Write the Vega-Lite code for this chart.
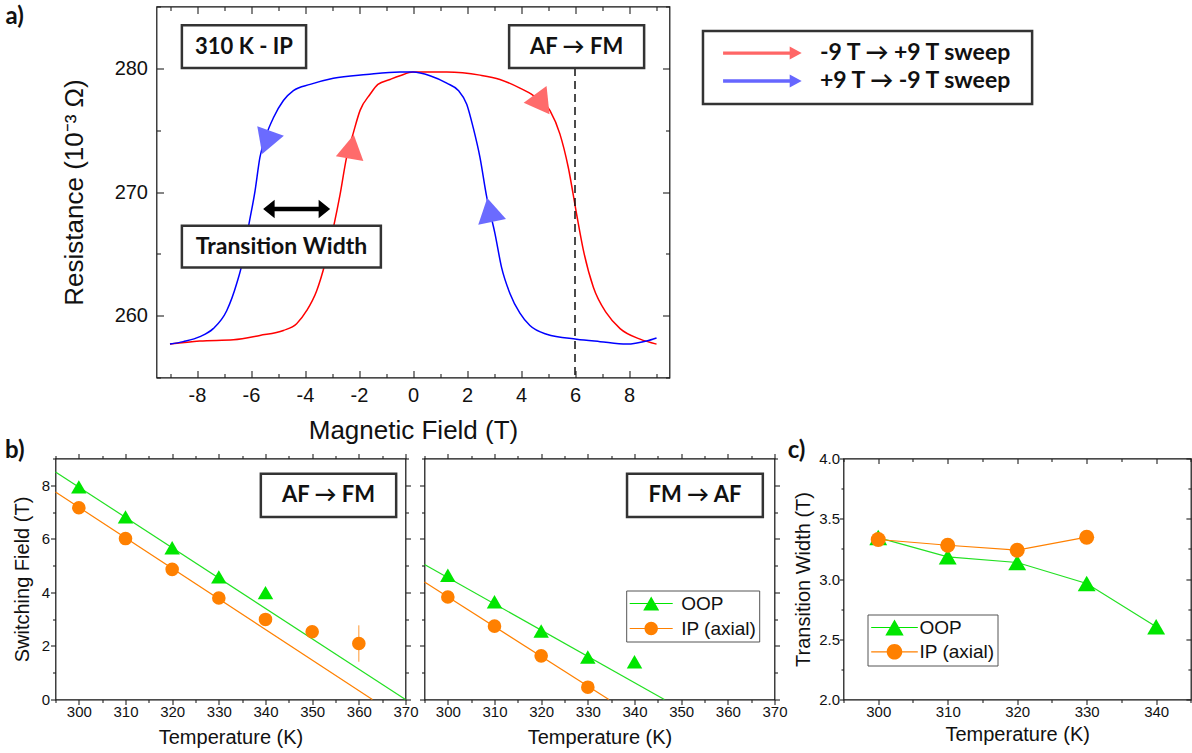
{
"$schema": "https://vega.github.io/schema/vega-lite/v6.json",
"background": "white",
"padding": {"left": 3.5, "top": 4.5, "right": 0, "bottom": 0},
"config": {
 "view": {"stroke": "#111", "strokeWidth": 1.2},
 "font": "Liberation Sans",
 "axis": {"domain": false, "grid": false, "labelFont": "Liberation Sans", "labelColor": "#111", "labelFlush": false, "labelOverlap": false, "labelBound": false, "titleFont": "Liberation Sans", "titleFontWeight": "normal", "titleColor": "#111", "tickColor": "#222", "tickWidth": 1.1}
},
"datasets": {
"sweep": [
{"s":"up","B":-9.0,"R":257.7},{"s":"up","B":-7.9,"R":257.95},{"s":"up","B":-6.65,"R":258.05},{"s":"up","B":-5.67,"R":258.4},{"s":"up","B":-4.8,"R":258.8},{"s":"up","B":-4.31,"R":259.35},{"s":"up","B":-3.94,"R":260.4},{"s":"up","B":-3.57,"R":262.0},{"s":"up","B":-3.26,"R":264.2},{"s":"up","B":-2.95,"R":267.1},{"s":"up","B":-2.7,"R":269.8},{"s":"up","B":-2.46,"R":272.8},{"s":"up","B":-2.22,"R":274.7},{"s":"up","B":-1.96,"R":276.6},{"s":"up","B":-1.59,"R":277.9},{"s":"up","B":-1.3,"R":278.7},{"s":"up","B":-0.85,"R":279.1},{"s":"up","B":-0.48,"R":279.4},{"s":"up","B":0,"R":279.7},{"s":"up","B":1.25,"R":279.7},{"s":"up","B":2.48,"R":279.45},{"s":"up","B":3.22,"R":279.1},{"s":"up","B":3.96,"R":278.4},{"s":"up","B":4.46,"R":277.8},{"s":"up","B":5.07,"R":276.6},{"s":"up","B":5.44,"R":274.7},{"s":"up","B":5.75,"R":272.0},{"s":"up","B":6.06,"R":268.2},{"s":"up","B":6.31,"R":265.3},{"s":"up","B":6.68,"R":262.3},{"s":"up","B":7.17,"R":260.2},{"s":"up","B":7.67,"R":258.95},{"s":"up","B":8.41,"R":258.1},{"s":"up","B":9.02,"R":257.7},
{"s":"down","B":9.02,"R":258.2},{"s":"down","B":8.65,"R":257.95},{"s":"down","B":7.91,"R":257.7},{"s":"down","B":6.93,"R":257.9},{"s":"down","B":6.06,"R":258.1},{"s":"down","B":4.95,"R":258.5},{"s":"down","B":4.33,"R":259.2},{"s":"down","B":3.96,"R":260.2},{"s":"down","B":3.59,"R":261.8},{"s":"down","B":3.28,"R":263.9},{"s":"down","B":3.04,"R":266.6},{"s":"down","B":2.73,"R":269.6},{"s":"down","B":2.48,"R":272.8},{"s":"down","B":2.23,"R":275.2},{"s":"down","B":1.99,"R":277.1},{"s":"down","B":1.68,"R":278.2},{"s":"down","B":1.25,"R":278.8},{"s":"down","B":0.63,"R":279.4},{"s":"down","B":0,"R":279.7},{"s":"down","B":-0.48,"R":279.7},{"s":"down","B":-1.72,"R":279.5},{"s":"down","B":-2.95,"R":279.2},{"s":"down","B":-3.81,"R":278.7},{"s":"down","B":-4.43,"R":278.2},{"s":"down","B":-4.8,"R":277.4},{"s":"down","B":-5.17,"R":276.0},{"s":"down","B":-5.42,"R":274.7},{"s":"down","B":-5.67,"R":272.8},{"s":"down","B":-5.85,"R":270.1},{"s":"down","B":-6.1,"R":267.1},{"s":"down","B":-6.28,"R":264.7},{"s":"down","B":-6.53,"R":262.6},{"s":"down","B":-6.9,"R":260.4},{"s":"down","B":-7.4,"R":258.95},{"s":"down","B":-7.89,"R":258.3},{"s":"down","B":-8.51,"R":257.9},{"s":"down","B":-9.0,"R":257.7}
],
"sw": [
{"dir":"AF → FM","sample":"OOP","T":300,"H":7.94},{"dir":"AF → FM","sample":"OOP","T":310,"H":6.82},{"dir":"AF → FM","sample":"OOP","T":320,"H":5.67},{"dir":"AF → FM","sample":"OOP","T":330,"H":4.58},{"dir":"AF → FM","sample":"OOP","T":340,"H":3.99},
{"dir":"AF → FM","sample":"IP (axial)","T":300,"H":7.16},{"dir":"AF → FM","sample":"IP (axial)","T":310,"H":6.01},{"dir":"AF → FM","sample":"IP (axial)","T":320,"H":4.86},{"dir":"AF → FM","sample":"IP (axial)","T":330,"H":3.79},{"dir":"AF → FM","sample":"IP (axial)","T":340,"H":2.99},{"dir":"AF → FM","sample":"IP (axial)","T":350,"H":2.53},{"dir":"AF → FM","sample":"IP (axial)","T":360,"H":2.09,"lo":1.41,"hi":2.77},
{"dir":"FM → AF","sample":"OOP","T":300,"H":4.64},{"dir":"FM → AF","sample":"OOP","T":310,"H":3.65},{"dir":"FM → AF","sample":"OOP","T":320,"H":2.56},{"dir":"FM → AF","sample":"OOP","T":330,"H":1.59},{"dir":"FM → AF","sample":"OOP","T":340,"H":1.41},
{"dir":"FM → AF","sample":"IP (axial)","T":300,"H":3.83},{"dir":"FM → AF","sample":"IP (axial)","T":310,"H":2.74},{"dir":"FM → AF","sample":"IP (axial)","T":320,"H":1.63},{"dir":"FM → AF","sample":"IP (axial)","T":330,"H":0.46}
],
"fit": [
{"dir":"AF → FM","sample":"OOP","T":295,"H":8.5},{"dir":"AF → FM","sample":"OOP","T":370,"H":0},
{"dir":"AF → FM","sample":"IP (axial)","T":295,"H":7.75},{"dir":"AF → FM","sample":"IP (axial)","T":362.9,"H":0},
{"dir":"FM → AF","sample":"OOP","T":295,"H":5.04},{"dir":"FM → AF","sample":"OOP","T":346.4,"H":0},
{"dir":"FM → AF","sample":"IP (axial)","T":295,"H":4.39},{"dir":"FM → AF","sample":"IP (axial)","T":334.5,"H":0}
],
"tw": [
{"sample":"OOP","T":300,"W":3.344},{"sample":"OOP","T":310,"W":3.184},{"sample":"OOP","T":320,"W":3.137},{"sample":"OOP","T":330,"W":2.963},{"sample":"OOP","T":340,"W":2.603},
{"sample":"IP (axial)","T":300,"W":3.328},{"sample":"IP (axial)","T":310,"W":3.28},{"sample":"IP (axial)","T":320,"W":3.239},{"sample":"IP (axial)","T":330,"W":3.347}
]
},
"columns": 1,
"align": "none",
"spacing": {"row": -7, "column": 0},
"resolve": {"scale": {"color": "independent", "shape": "independent"}, "legend": {"color": "independent", "shape": "independent"}},
"concat": [
{
"spacing": 0,
"hconcat": [
{
"width": 5, "height": 371,
"view": {"stroke": null},
"data": {"values": [{}]},
"mark": {"type": "text", "font": "Lato", "fontWeight": "bold", "fontSize": 24, "color": "#111", "align": "left", "baseline": "alphabetic", "text": "a)"},
"encoding": {
 "x": {"datum": -10, "type": "quantitative", "scale": {"domain": [0, 1], "nice": false, "zero": false}, "axis": null},
 "y": {"datum": 283.57, "type": "quantitative", "scale": {"domain": [255, 285], "nice": false, "zero": false}, "axis": null}
}
},
{
"width": 513, "height": 371,
"layer": [
{"layer": [
{"data": {"name": "sweep"}, "transform": [{"filter": "datum.s === 'up'"}],
 "mark": {"type": "line", "color": "#ff0000", "strokeWidth": 1.5, "interpolate": "monotone"},
 "encoding": {
  "x": {"field": "B", "type": "quantitative", "scale": {"domain": [-9.5, 9.5], "nice": false, "zero": false},
   "axis": {"orient": "bottom", "values": [-8,-6,-4,-2,0,2,4,6,8], "labelExpr": "replace(datum.label, '\u2212', '-')",
    "tickSize": -7, "labelPadding": 15, "labelFontSize": 20,
    "title": "Magnetic Field (T)", "titleFontSize": 26, "titlePadding": 12}},
  "y": {"field": "R", "type": "quantitative", "scale": {"domain": [255, 285], "nice": false, "zero": false},
   "axis": {"orient": "left", "values": [260,270,280], "tickSize": -7, "labelPadding": 16, "labelFontSize": 20,
    "title": "Resistance (10\u207b\u00b3 \u03a9)", "titleFontSize": 26, "titlePadding": 27}}
 }},
{"data": {"name": "sweep"}, "transform": [{"filter": "datum.s === 'down'"}],
 "mark": {"type": "line", "color": "#0000ff", "strokeWidth": 1.5, "interpolate": "monotone"},
 "encoding": {"x": {"field": "B", "type": "quantitative"}, "y": {"field": "R", "type": "quantitative"}}},
{"data": {"values": [{}]}, "mark": {"type": "rule", "strokeDash": [8, 5], "strokeWidth": 1.5, "color": "#111"},
 "encoding": {"x": {"datum": 6}, "y": {"datum": 280.02}, "y2": {"datum": 255}}},
{"data": {"values": [{}]}, "mark": {"type": "rect", "fill": "white", "stroke": "#333", "strokeWidth": 2.5},
 "encoding": {"x": {"datum": -8.56}, "x2": {"datum": -3.96}, "y": {"datum": 283.49}, "y2": {"datum": 280.02}}},
{"data": {"values": [{}]}, "mark": {"type": "rect", "fill": "white", "stroke": "#333", "strokeWidth": 2.5},
 "encoding": {"x": {"datum": 3.56}, "x2": {"datum": 8.56}, "y": {"datum": 283.49}, "y2": {"datum": 280.02}}},
{"data": {"values": [{}]}, "mark": {"type": "rect", "fill": "white", "stroke": "#333", "strokeWidth": 2.5},
 "encoding": {"x": {"datum": -8.56}, "x2": {"datum": -1.19}, "y": {"datum": 267.28}, "y2": {"datum": 263.9}}},
{"data": {"values": [{}]}, "mark": {"type": "rect", "fill": "white", "stroke": "#333", "strokeWidth": 2.5},
 "encoding": {"x": {"datum": 10.74}, "x2": {"datum": 22.93}, "y": {"datum": 283.01}, "y2": {"datum": 277.12}}},
{"data": {"values": [{}]}, "mark": {"type": "text", "font": "Lato", "fontWeight": "bold", "fontSize": 22, "color": "#111", "align": "center", "baseline": "middle", "text": "310 K - IP"},
 "encoding": {"x": {"datum": -6.26}, "y": {"datum": 281.76}}},
{"data": {"values": [{}]}, "mark": {"type": "text", "font": "Lato", "fontWeight": "bold", "fontSize": 22, "color": "#111", "align": "center", "baseline": "middle", "text": "AF → FM"},
 "encoding": {"x": {"datum": 6.06}, "y": {"datum": 281.76}}},
{"data": {"values": [{}]}, "mark": {"type": "text", "font": "Lato", "fontWeight": "bold", "fontSize": 23, "color": "#111", "align": "center", "baseline": "middle", "text": "Transition Width"},
 "encoding": {"x": {"datum": -4.87}, "y": {"datum": 265.59}}},
{"data": {"values": [{}]}, "mark": {"type": "text", "font": "Lato", "fontWeight": "bold", "fontSize": 23, "color": "#111", "align": "left", "baseline": "middle", "text": "-9 T → +9 T sweep"},
 "encoding": {"x": {"datum": 15.07}, "y": {"datum": 281.23}}},
{"data": {"values": [{}]}, "mark": {"type": "text", "font": "Lato", "fontWeight": "bold", "fontSize": 23, "color": "#111", "align": "left", "baseline": "middle", "text": "+9 T → -9 T sweep"},
 "encoding": {"x": {"datum": 15.07}, "y": {"datum": 278.98}}},
{"data": {"values": [{}]}, "mark": {"type": "point", "filled": true, "opacity": 1, "shape": "triangle-up", "size": 780, "angle": 10, "color": "#ff6b6b"},
 "encoding": {"x": {"datum": -2.27}, "y": {"datum": 273.66}}},
{"data": {"values": [{}]}, "mark": {"type": "point", "filled": true, "opacity": 1, "shape": "triangle-up", "size": 800, "angle": 264, "color": "#ff6b6b"},
 "encoding": {"x": {"datum": 4.55}, "y": {"datum": 277.33}}},
{"data": {"values": [{}]}, "mark": {"type": "point", "filled": true, "opacity": 1, "shape": "triangle-up", "size": 800, "angle": 80, "color": "#6b6bff"},
 "encoding": {"x": {"datum": -5.23}, "y": {"datum": 274.37}}},
{"data": {"values": [{}]}, "mark": {"type": "point", "filled": true, "opacity": 1, "shape": "triangle-up", "size": 800, "angle": 348.5, "color": "#6b6bff"},
 "encoding": {"x": {"datum": 2.84}, "y": {"datum": 268.55}}},
{"data": {"values": [{}]}, "mark": {"type": "point", "filled": true, "opacity": 1, "size": 4, "color": "#000", "shape": "M-33.5,0L-22,-9.2L-22,-2.3L22,-2.3L22,-9.2L33.5,0L22,9.2L22,2.3L-22,2.3L-22,9.2Z"},
 "encoding": {"x": {"datum": -4.31}, "y": {"datum": 268.63}}},
{"data": {"values": [{}]}, "mark": {"type": "point", "filled": true, "opacity": 1, "size": 4, "color": "#ff6666", "shape": "M-39.3,-1.7L27.3,-1.7L27.3,-6.5L39.3,0L27.3,6.5L27.3,1.7L-39.3,1.7Z"},
 "encoding": {"x": {"datum": 12.94}, "y": {"datum": 281.23}}},
{"data": {"values": [{}]}, "mark": {"type": "point", "filled": true, "opacity": 1, "size": 4, "color": "#6666ff", "shape": "M-39.3,-1.7L27.3,-1.7L27.3,-6.5L39.3,0L27.3,6.5L27.3,1.7L-39.3,1.7Z"},
 "encoding": {"x": {"datum": 12.94}, "y": {"datum": 278.98}}}
]},
{"data": {"name": "sweep"}, "mark": {"type": "point", "opacity": 0},
 "encoding": {
  "x": {"field": "B", "type": "quantitative", "axis": {"orient": "top", "values": [-8,-6,-4,-2,0,2,4,6,8], "labels": false, "title": null, "tickSize": -7}},
  "y": {"field": "R", "type": "quantitative", "axis": {"orient": "right", "values": [260,270,280], "labels": false, "title": null, "tickSize": -7}}}},
{"data": {"name": "sweep"}, "mark": {"type": "point", "opacity": 0},
 "encoding": {
  "x": {"field": "B", "type": "quantitative", "axis": {"orient": "bottom", "values": [-9,-7,-5,-3,-1,1,3,5,7,9], "labels": false, "title": null, "tickSize": -4}},
  "y": {"field": "R", "type": "quantitative", "axis": {"orient": "left", "values": [255,265,275,285], "labels": false, "title": null, "tickSize": -4}}}},
{"data": {"name": "sweep"}, "mark": {"type": "point", "opacity": 0},
 "encoding": {
  "x": {"field": "B", "type": "quantitative", "axis": {"orient": "top", "values": [-9,-7,-5,-3,-1,1,3,5,7,9], "labels": false, "title": null, "tickSize": -4}},
  "y": {"field": "R", "type": "quantitative", "axis": {"orient": "right", "values": [255,265,275,285], "labels": false, "title": null, "tickSize": -4}}}}
],
"resolve": {"axis": {"x": "independent", "y": "independent"}}
}
]
},
{
"spacing": -2,
"resolve": {"scale": {"color": "independent", "shape": "independent"}, "legend": {"color": "independent", "shape": "independent"}},
"hconcat": [
{
"width": 350, "height": 241,
"layer": [
{"layer": [
{"data": {"name": "fit"}, "transform": [{"filter": "datum.dir === 'AF → FM' && datum.sample === 'OOP'"}],
 "mark": {"type": "line", "strokeWidth": 1.2, "color": "#22e022"},
 "encoding": {
  "x": {"field": "T", "type": "quantitative", "scale": {"domain": [295, 370], "nice": false, "zero": false},
   "axis": {"orient": "bottom", "values": [300,310,320,330,340,350,360,370], "tickSize": 5, "labelPadding": 0, "labelFontSize": 15,
    "title": "Temperature (K)", "titleFontSize": 20, "titlePadding": 8}},
  "y": {"field": "H", "type": "quantitative", "scale": {"domain": [0, 9], "nice": false, "zero": false},
   "axis": {"orient": "left", "values": [0,2,4,6,8], "tickSize": 5, "labelPadding": 1, "labelFontSize": 15,
    "title": "Switching Field (T)", "titleFontSize": 20, "titlePadding": 9}}
 }},
{"data": {"name": "fit"}, "transform": [{"filter": "datum.dir === 'AF → FM' && datum.sample === 'IP (axial)'"}],
 "mark": {"type": "line", "strokeWidth": 1.2, "color": "#ff8000"},
 "encoding": {"x": {"field": "T", "type": "quantitative"}, "y": {"field": "H", "type": "quantitative"}}},
{"data": {"name": "sw"}, "transform": [{"filter": "datum.dir === 'AF → FM' && isValid(datum.lo)"}],
 "mark": {"type": "rule", "color": "#ff9933", "strokeWidth": 1},
 "encoding": {"x": {"field": "T", "type": "quantitative"}, "y": {"field": "lo", "type": "quantitative"}, "y2": {"field": "hi"}}},
{"data": {"name": "sw"}, "transform": [{"filter": "datum.dir === 'AF → FM' && datum.sample === 'OOP'"}],
 "mark": {"type": "point", "filled": true, "opacity": 1, "shape": "triangle-up", "size": 240, "color": "#00e600"},
 "encoding": {"x": {"field": "T", "type": "quantitative"}, "y": {"field": "H", "type": "quantitative"}}},
{"data": {"name": "sw"}, "transform": [{"filter": "datum.dir === 'AF → FM' && datum.sample === 'IP (axial)'"}],
 "mark": {"type": "point", "filled": true, "opacity": 1, "shape": "circle", "size": 185, "color": "#ff8000"},
 "encoding": {"x": {"field": "T", "type": "quantitative"}, "y": {"field": "H", "type": "quantitative"}}},
{"data": {"values": [{}]}, "mark": {"type": "rect", "fill": "white", "stroke": "#333", "strokeWidth": 2.5},
 "encoding": {"x": {"datum": 339.0}, "x2": {"datum": 368.0}, "y": {"datum": 8.43}, "y2": {"datum": 6.82}}},
{"data": {"values": [{}]}, "mark": {"type": "text", "font": "Lato", "fontWeight": "bold", "fontSize": 22, "color": "#111", "align": "center", "baseline": "middle", "text": "AF → FM"},
 "encoding": {"x": {"datum": 353.5}, "y": {"datum": 7.62}}},
{"data": {"values": [{}]}, "mark": {"type": "text", "font": "Lato", "fontWeight": "bold", "fontSize": 24, "color": "#111", "align": "left", "baseline": "alphabetic", "text": "b)"},
 "encoding": {"x": {"datum": 284.17}, "y": {"datum": 9.03}}}
]},
{"data": {"name": "sw"}, "mark": {"type": "point", "opacity": 0},
 "encoding": {
  "x": {"field": "T", "type": "quantitative", "axis": {"orient": "top", "values": [300,310,320,330,340,350,360,370], "labels": false, "title": null, "tickSize": 5}},
  "y": {"field": "H", "type": "quantitative", "axis": {"orient": "right", "values": [0,2,4,6,8], "labels": false, "title": null, "tickSize": 5}}}},
{"data": {"name": "sw"}, "mark": {"type": "point", "opacity": 0},
 "encoding": {
  "x": {"field": "T", "type": "quantitative", "axis": {"orient": "bottom", "values": [295,305,315,325,335,345,355,365], "labels": false, "title": null, "tickSize": 3}},
  "y": {"field": "H", "type": "quantitative", "axis": {"orient": "left", "values": [1,3,5,7,9], "labels": false, "title": null, "tickSize": 3}}}},
{"data": {"name": "sw"}, "mark": {"type": "point", "opacity": 0},
 "encoding": {
  "x": {"field": "T", "type": "quantitative", "axis": {"orient": "top", "values": [295,305,315,325,335,345,355,365], "labels": false, "title": null, "tickSize": 3}},
  "y": {"field": "H", "type": "quantitative", "axis": {"orient": "right", "values": [1,3,5,7,9], "labels": false, "title": null, "tickSize": 3}}}}
],
"resolve": {"axis": {"x": "independent", "y": "independent"}}
},
{
"width": 350, "height": 241,
"layer": [
{"layer": [
{"data": {"name": "fit"}, "transform": [{"filter": "datum.dir === 'FM → AF' && datum.sample === 'OOP'"}],
 "mark": {"type": "line", "strokeWidth": 1.2, "color": "#22e022"},
 "encoding": {
  "x": {"field": "T", "type": "quantitative", "scale": {"domain": [295, 370], "nice": false, "zero": false},
   "axis": {"orient": "bottom", "values": [300,310,320,330,340,350,360,370], "tickSize": 5, "labelPadding": 0, "labelFontSize": 15,
    "title": "Temperature (K)", "titleFontSize": 20, "titlePadding": 8}},
  "y": {"field": "H", "type": "quantitative", "scale": {"domain": [0, 9], "nice": false, "zero": false},
   "axis": {"orient": "left", "values": [0,2,4,6,8], "labels": false, "title": null, "tickSize": 5}}
 }},
{"data": {"name": "fit"}, "transform": [{"filter": "datum.dir === 'FM → AF' && datum.sample === 'IP (axial)'"}],
 "mark": {"type": "line", "strokeWidth": 1.2, "color": "#ff8000"},
 "encoding": {"x": {"field": "T", "type": "quantitative"}, "y": {"field": "H", "type": "quantitative"}}},
{"data": {"name": "sw"}, "transform": [{"filter": "datum.dir === 'FM → AF' && datum.sample === 'OOP'"}],
 "mark": {"type": "point", "filled": true, "opacity": 1, "shape": "triangle-up", "size": 240, "color": "#00e600"},
 "encoding": {"x": {"field": "T", "type": "quantitative"}, "y": {"field": "H", "type": "quantitative"}}},
{"data": {"name": "sw"}, "transform": [{"filter": "datum.dir === 'FM → AF' && datum.sample === 'IP (axial)'"}],
 "mark": {"type": "point", "filled": true, "opacity": 1, "shape": "circle", "size": 185, "color": "#ff8000"},
 "encoding": {"x": {"field": "T", "type": "quantitative"}, "y": {"field": "H", "type": "quantitative"}}},
{"data": {"name": "sw"}, "transform": [{"filter": "false"}],
 "mark": {"type": "point", "filled": true, "opacity": 1, "strokeWidth": 0},
 "encoding": {"x": {"field": "T", "type": "quantitative"}, "y": {"field": "H", "type": "quantitative"},
  "color": {"field": "sample", "type": "nominal", "scale": {"domain": ["OOP", "IP (axial)"], "range": ["#00e600", "#ff8000"]},
   "legend": {"orient": "none", "legendX": 201.7, "legendY": 132, "title": null, "padding": 3, "strokeColor": "#555", "fillColor": "white", "symbolSize": 400, "symbolStrokeWidth": 0, "symbolOffset": 12, "labelOffset": 20, "labelFontSize": 19, "labelFont": "Liberation Sans", "labelColor": "#111", "rowPadding": 5, "labelLimit": 300, "symbolOpacity": 1}},
  "shape": {"field": "sample", "type": "nominal", "scale": {"domain": ["OOP", "IP (axial)"], "range": ["M-2.15,-0.06L2.15,-0.06L2.15,0.06L-2.15,0.06Z M0,-0.69L0.8,0.69L-0.8,0.69Z", "M-2.15,-0.06L2.15,-0.06L2.15,0.06L-2.15,0.06Z M-0.67,0A0.67,0.67,0,1,1,0.67,0A0.67,0.67,0,1,1,-0.67,0Z"]},
   "legend": {"orient": "none", "legendX": 201.7, "legendY": 132, "title": null, "padding": 3, "strokeColor": "#555", "fillColor": "white", "symbolSize": 400, "symbolStrokeWidth": 0, "symbolOffset": 12, "labelOffset": 20, "labelFontSize": 19, "labelFont": "Liberation Sans", "labelColor": "#111", "rowPadding": 5, "labelLimit": 300, "symbolOpacity": 1}}
 }},
{"data": {"values": [{}]}, "mark": {"type": "rect", "fill": "white", "stroke": "#333", "strokeWidth": 2.5},
 "encoding": {"x": {"datum": 338.4}, "x2": {"datum": 367.5}, "y": {"datum": 8.43}, "y2": {"datum": 6.82}}},
{"data": {"values": [{}]}, "mark": {"type": "text", "font": "Lato", "fontWeight": "bold", "fontSize": 22, "color": "#111", "align": "center", "baseline": "middle", "text": "FM → AF"},
 "encoding": {"x": {"datum": 352.95}, "y": {"datum": 7.62}}}
]},
{"data": {"name": "sw"}, "mark": {"type": "point", "opacity": 0},
 "encoding": {
  "x": {"field": "T", "type": "quantitative", "axis": {"orient": "top", "values": [300,310,320,330,340,350,360,370], "labels": false, "title": null, "tickSize": 5}},
  "y": {"field": "H", "type": "quantitative", "axis": {"orient": "right", "values": [0,2,4,6,8], "labels": false, "title": null, "tickSize": 5}}}},
{"data": {"name": "sw"}, "mark": {"type": "point", "opacity": 0},
 "encoding": {
  "x": {"field": "T", "type": "quantitative", "axis": {"orient": "bottom", "values": [295,305,315,325,335,345,355,365], "labels": false, "title": null, "tickSize": 3}},
  "y": {"field": "H", "type": "quantitative", "axis": {"orient": "left", "values": [1,3,5,7,9], "labels": false, "title": null, "tickSize": 3}}}},
{"data": {"name": "sw"}, "mark": {"type": "point", "opacity": 0},
 "encoding": {
  "x": {"field": "T", "type": "quantitative", "axis": {"orient": "top", "values": [295,305,315,325,335,345,355,365], "labels": false, "title": null, "tickSize": 3}},
  "y": {"field": "H", "type": "quantitative", "axis": {"orient": "right", "values": [1,3,5,7,9], "labels": false, "title": null, "tickSize": 3}}}}
],
"resolve": {"axis": {"x": "independent", "y": "independent"}}
},
{
"width": 347.4, "height": 241,
"layer": [
{"layer": [
{"data": {"name": "tw"}, "transform": [{"filter": "datum.sample === 'OOP'"}],
 "mark": {"type": "line", "strokeWidth": 1.2, "color": "#22e022"},
 "encoding": {
  "x": {"field": "T", "type": "quantitative", "scale": {"domain": [295, 345], "nice": false, "zero": false},
   "axis": {"orient": "bottom", "values": [300,310,320,330,340], "tickSize": 5, "labelPadding": 0, "labelFontSize": 15,
    "title": "Temperature (K)", "titleFontSize": 20, "titlePadding": 5}},
  "y": {"field": "W", "type": "quantitative", "scale": {"domain": [2, 4], "nice": false, "zero": false},
   "axis": {"orient": "left", "values": [2,2.5,3,3.5,4], "format": ".1f", "tickSize": 4, "labelPadding": 0, "labelFontSize": 15,
    "title": "Transition Width (T)", "titleFontSize": 20, "titlePadding": 5}}
 }},
{"data": {"name": "tw"}, "transform": [{"filter": "datum.sample === 'IP (axial)'"}],
 "mark": {"type": "line", "strokeWidth": 1.2, "color": "#ff8000"},
 "encoding": {"x": {"field": "T", "type": "quantitative"}, "y": {"field": "W", "type": "quantitative"}}},
{"data": {"name": "tw"}, "transform": [{"filter": "datum.sample === 'OOP'"}],
 "mark": {"type": "point", "filled": true, "opacity": 1, "shape": "triangle-up", "size": 320, "color": "#00e600"},
 "encoding": {"x": {"field": "T", "type": "quantitative"}, "y": {"field": "W", "type": "quantitative"}}},
{"data": {"name": "tw"}, "transform": [{"filter": "datum.sample === 'IP (axial)'"}],
 "mark": {"type": "point", "filled": true, "opacity": 1, "shape": "circle", "size": 225, "color": "#ff8000"},
 "encoding": {"x": {"field": "T", "type": "quantitative"}, "y": {"field": "W", "type": "quantitative"}}},
{"data": {"name": "tw"}, "transform": [{"filter": "false"}],
 "mark": {"type": "point", "filled": true, "opacity": 1, "strokeWidth": 0},
 "encoding": {"x": {"field": "T", "type": "quantitative"}, "y": {"field": "W", "type": "quantitative"},
  "color": {"field": "sample", "type": "nominal", "scale": {"domain": ["OOP", "IP (axial)"], "range": ["#00e600", "#ff8000"]},
   "legend": {"orient": "none", "legendX": 24, "legendY": 156, "title": null, "padding": 3, "strokeColor": "#555", "fillColor": "white", "symbolSize": 400, "symbolStrokeWidth": 0, "symbolOffset": 14, "labelOffset": 15, "labelFontSize": 19, "labelFont": "Liberation Sans", "labelColor": "#111", "rowPadding": 4.3, "labelLimit": 300, "symbolOpacity": 1}},
  "shape": {"field": "sample", "type": "nominal", "scale": {"domain": ["OOP", "IP (axial)"], "range": ["M-2.33,-0.06L2.33,-0.06L2.33,0.06L-2.33,0.06Z M0,-0.8L0.92,0.8L-0.92,0.8Z", "M-2.33,-0.06L2.33,-0.06L2.33,0.06L-2.33,0.06Z M-0.78,0A0.78,0.78,0,1,1,0.78,0A0.78,0.78,0,1,1,-0.78,0Z"]},
   "legend": {"orient": "none", "legendX": 24, "legendY": 156, "title": null, "padding": 3, "strokeColor": "#555", "fillColor": "white", "symbolSize": 400, "symbolStrokeWidth": 0, "symbolOffset": 14, "labelOffset": 15, "labelFontSize": 19, "labelFont": "Liberation Sans", "labelColor": "#111", "rowPadding": 4.3, "labelLimit": 300, "symbolOpacity": 1}}
 }},
{"data": {"values": [{}]}, "mark": {"type": "text", "font": "Lato", "fontWeight": "bold", "fontSize": 24, "color": "#111", "align": "left", "baseline": "alphabetic", "text": "c)"},
 "encoding": {"x": {"datum": 286.97}, "y": {"datum": 4.008}}}
]},
{"data": {"name": "tw"}, "mark": {"type": "point", "opacity": 0},
 "encoding": {
  "x": {"field": "T", "type": "quantitative", "axis": {"orient": "top", "values": [300,310,320,330,340], "labels": false, "title": null, "tickSize": -5}},
  "y": {"field": "W", "type": "quantitative", "axis": {"orient": "right", "values": [2,2.5,3,3.5,4], "labels": false, "title": null, "tickSize": -5}}}},
{"data": {"name": "tw"}, "mark": {"type": "point", "opacity": 0},
 "encoding": {
  "x": {"field": "T", "type": "quantitative", "axis": {"orient": "bottom", "values": [295,305,315,325,335,345], "labels": false, "title": null, "tickSize": 3}},
  "y": {"field": "W", "type": "quantitative", "axis": {"orient": "left", "values": [2.25,2.75,3.25,3.75], "labels": false, "title": null, "tickSize": 2.5}}}},
{"data": {"name": "tw"}, "mark": {"type": "point", "opacity": 0},
 "encoding": {
  "x": {"field": "T", "type": "quantitative", "axis": {"orient": "top", "values": [295,305,315,325,335,345], "labels": false, "title": null, "tickSize": -3}},
  "y": {"field": "W", "type": "quantitative", "axis": {"orient": "right", "values": [2.25,2.75,3.25,3.75], "labels": false, "title": null, "tickSize": -3}}}}
],
"resolve": {"axis": {"x": "independent", "y": "independent"}}
}
]
}
]
}
